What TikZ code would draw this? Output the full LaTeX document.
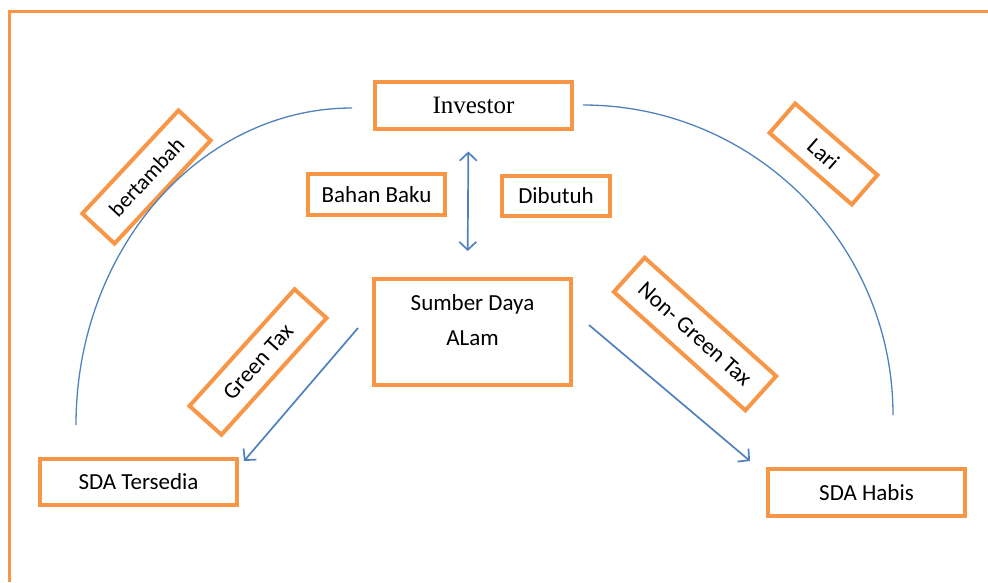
\documentclass[tikz,border=0pt]{standalone}
\usepackage{fontspec}
\setmainfont{Carlito}
\newfontfamily\invfont{Liberation Serif}
\usetikzlibrary{calc}
\usetikzlibrary{positioning}
\usetikzlibrary{arrows.meta}

\definecolor{oranye}{HTML}{F79646}
\definecolor{biru}{HTML}{4F81BD}

\begin{document}
\begin{tikzpicture}[x=1pt, y=-1pt,
    box/.style={draw=oranye, line width=4pt, inner sep=0pt, minimum width=197pt, minimum height=46pt, font=\fontsize{23}{28}\selectfont},
    tag/.style={box, minimum height=44pt},
    curve/.style={draw=biru, line width=1.3pt},
    flow/.style={draw=biru, line width=1.7pt, >={Straight Barb[length=8pt,width=17pt]}}]
      \useasboundingbox (0,0) rectangle (988,582);
      \draw[oranye, line width=3pt] (9,582) -- (9,11) -- (988,11);

      \node[box, minimum height=47pt, font=\invfont\fontsize{25}{30}\selectfont] (inv) at (473.5,105) {Investor};
      \node[box, minimum width=137pt, minimum height=41pt] (bahan) at (376.5,194.5) {Bahan Baku};
      \node[box, minimum width=108pt, minimum height=40pt] (butuh) at (556,196) {Dibutuh};
      \node[box, minimum height=106pt, align=center, font=\fontsize{23}{35}\selectfont] (sda) at (472.5,332) {Sumber Daya\\ALam\\[-12pt]\mbox{}};
      \node[box] (sedia) at (138.5,482) {SDA Tersedia};
      \node[box, minimum height=47pt] (habis) at (866.5,492.5) {SDA Habis};

      \node[tag, minimum width=141pt, rotate=47, font=\fontsize{22}{26}\selectfont] (tambah) at (146.5,177) {bertambah};
      \node[tag, minimum width=109pt, minimum height=39pt, rotate=-41] (lari) at (823.5,154) {Lari};
      \node[tag, minimum width=157pt, minimum height=43pt, rotate=48] (green) at (258,362) {Green Tax};
      \node[tag, minimum width=177pt, minimum height=46pt, rotate=-42] (nongreen) at (695,334) {Non- Green Tax};

      \coordinate (kiri a) at (76,425);
      \coordinate (kiri b) at (352,108);
      \coordinate (kanan a) at (583,105);
      \coordinate (kanan b) at (893,415);
      \draw[curve] (kiri a) .. controls +(0,-175) and +(-152,0) .. (kiri b);
      \draw[curve] (kanan a) .. controls +(171,0) and +(0,-171) .. (kanan b);

      \draw[flow, <->, shorten <=21pt, shorten >=26pt] ([xshift=-5pt]inv.south) -- ([xshift=-5pt]sda.north);
      \draw[flow, ->] ($(sda.west)+(-14,-4)$) -- ($(sedia.north east)+(5,4)$);
      \draw[flow, ->] ($(sda.east)+(16,-7)$) -- ($(habis.north west)+(-16,-6)$);
    \end{tikzpicture}
\end{document}
